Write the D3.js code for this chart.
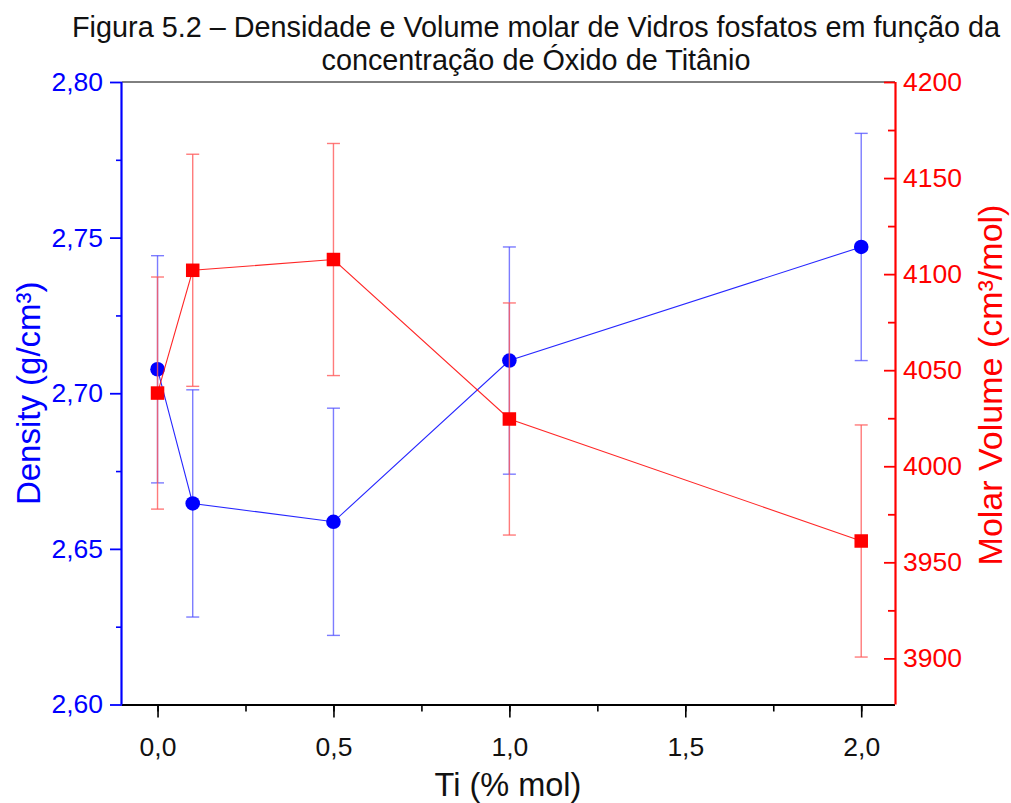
<!DOCTYPE html>
<html>
<head>
<meta charset="utf-8">
<script src="https://cdn.jsdelivr.net/npm/d3@7"></script>
<style>
  html, body { margin: 0; padding: 0; background: #fff; }
  svg { display: block; font-family: "Liberation Sans", Arial, sans-serif; }
</style>
</head>
<body>
<svg id="chart" width="1011" height="803"></svg>
<script>
// Ti concentration (% mol)
const tiConc = [0.0, 0.1, 0.5, 1.0, 2.0];
// Density (g/cm³) and its error
const density = [2.7077, 2.6646, 2.6587, 2.7105, 2.7470];
const densityErr = [0.0365, 0.0365, 0.0365, 0.0365, 0.0365];
// Molar volume (cm³/mol) and its error
const molarVolume = [4038.1, 4102.0, 4107.6, 4024.6, 3961.1];
const molarVolumeErr = [60.4, 60.4, 60.4, 60.4, 60.4];

// Tick values
const xTicks = [0.0, 0.5, 1.0, 1.5, 2.0];
const densityTicks = [2.60, 2.65, 2.70, 2.75, 2.80];
const volumeTicks = [3900, 3950, 4000, 4050, 4100, 4150, 4200];

const titleLines = [
  "Figura 5.2 \u2013 Densidade e Volume molar de Vidros fosfatos em fun\u00e7\u00e3o da",
  "concentra\u00e7\u00e3o de \u00d3xido de Tit\u00e2nio"
];

const BLUE = "#0000ff", RED = "#ff0000";
const plotL = 122, plotR = 895, plotT = 82, plotB = 704.5;
const FONT = "Liberation Sans, Arial, sans-serif";

const svg = d3.select("#chart");

const x = d3.scaleLinear().domain([-0.101, 2.096]).range([plotL, plotR]);
const yD = d3.scaleLinear().domain([2.60, 2.80]).range([plotB, plotT]);
const yV = d3.scaleLinear().domain([3876, 4200]).range([plotB, plotT]);

const comma = f => v => d3.format(f)(v).replace(".", ",");

// Title
svg.append("g").selectAll("text").data(titleLines).join("text")
  .attr("x", 536).attr("y", (d, i) => 37 + i * 33)
  .attr("text-anchor", "middle")
  .attr("font-size", 28.8).attr("fill", "#111")
  .text(d => d);

// Top frame line
svg.append("line")
  .attr("x1", plotL).attr("x2", plotR).attr("y1", plotT).attr("y2", plotT)
  .attr("stroke", "#000").attr("stroke-width", 1);

function minorTicks(scale, step) {
  const [a, b] = scale.domain();
  const out = [];
  for (let v = Math.ceil(Math.min(a, b) / step) * step; v <= Math.max(a, b) + 1e-9; v += step) out.push(+v.toFixed(6));
  return out;
}

// X axis (bottom)
const gxMinor = svg.append("g").attr("transform", `translate(0,${plotB})`)
  .call(d3.axisBottom(x).tickValues(minorTicks(x, 0.25)).tickSize(7).tickFormat(""));
gxMinor.select(".domain").remove();
gxMinor.selectAll("line").attr("stroke", "#000").attr("stroke-width", 1.6);

const gx = svg.append("g").attr("transform", `translate(0,${plotB})`)
  .call(d3.axisBottom(x).tickValues(xTicks).tickSize(13).tickPadding(20).tickFormat(comma(".1f")));
gx.select(".domain").attr("stroke", "#000").attr("stroke-width", 2).attr("d", `M${plotL},0.5H${plotR}`);
gx.selectAll("line").attr("stroke", "#000").attr("stroke-width", 1.6);
gx.selectAll("text").attr("font-size", 26.5).attr("fill", "#111").attr("font-family", FONT);

// Left axis (density)
const gyMinor = svg.append("g").attr("transform", `translate(${plotL},0)`)
  .call(d3.axisLeft(yD).tickValues([2.625, 2.675, 2.725, 2.775]).tickSize(6).tickFormat(""));
gyMinor.select(".domain").remove();
gyMinor.selectAll("line").attr("stroke", BLUE).attr("stroke-width", 1.6);

const gy = svg.append("g").attr("transform", `translate(${plotL},0)`)
  .call(d3.axisLeft(yD).tickValues(densityTicks).tickSize(12).tickPadding(7).tickFormat(comma(".2f")));
gy.select(".domain").attr("stroke", BLUE).attr("stroke-width", 2.2).attr("d", `M-0.5,${plotT}V${plotB}`);
gy.selectAll("line").attr("stroke", BLUE).attr("stroke-width", 1.8);
gy.selectAll("text").attr("font-size", 26.5).attr("fill", BLUE).attr("font-family", FONT);

// Right axis (molar volume), ticks pointing inward
const gvMinor = svg.append("g").attr("transform", `translate(${plotR},0)`)
  .call(d3.axisRight(yV).tickValues([3925, 3975, 4025, 4075, 4125, 4175]).tickSize(-7).tickFormat(""));
gvMinor.select(".domain").remove();
gvMinor.selectAll("line").attr("stroke", RED).attr("stroke-width", 1.8);

const gv = svg.append("g").attr("transform", `translate(${plotR},0)`)
  .call(d3.axisRight(yV).tickValues(volumeTicks).tickSize(-11).tickPadding(8).tickFormat(d3.format("d")));
gv.select(".domain").attr("stroke", RED).attr("stroke-width", 2.2).attr("d", `M0.5,${plotT}V${plotB}`);
gv.selectAll("line").attr("stroke", RED).attr("stroke-width", 1.8);
gv.selectAll("text").attr("font-size", 26.5).attr("fill", RED).attr("font-family", FONT);

// Axis titles
svg.append("text")
  .attr("transform", `translate(40,${(plotT + plotB) / 2}) rotate(-90)`)
  .attr("text-anchor", "middle").attr("font-size", 33).attr("fill", BLUE)
  .text("Density (g/cm\u00b3)");

svg.append("text")
  .attr("transform", `translate(1002,385) rotate(-90)`)
  .attr("text-anchor", "middle").attr("font-size", 34).attr("fill", RED)
  .text("Molar Volume (cm\u00b3/mol)");

svg.append("text")
  .attr("x", 508).attr("y", 796)
  .attr("text-anchor", "middle").attr("font-size", 32.5).attr("fill", "#111")
  .text("Ti (% mol)");

// Series drawing: error bars, connecting line, markers
function drawSeries(vals, errs, yScale, color, errColor, shape) {
  const pts = tiConc.map((c, i) => ({ c, v: vals[i], e: errs[i] }));
  const g = svg.append("g");
  const cap = 6.5;
  const eb = g.append("g").attr("stroke", errColor).attr("stroke-width", 1.4);
  pts.forEach(p => {
    const xx = x(p.c), y1 = yScale(p.v + p.e), y2 = yScale(p.v - p.e);
    eb.append("line").attr("x1", xx).attr("x2", xx).attr("y1", y1).attr("y2", y2);
    eb.append("line").attr("x1", xx - cap).attr("x2", xx + cap).attr("y1", y1).attr("y2", y1);
    eb.append("line").attr("x1", xx - cap).attr("x2", xx + cap).attr("y1", y2).attr("y2", y2);
  });
  g.append("path").datum(pts)
    .attr("fill", "none").attr("stroke", color).attr("stroke-width", 1.1).attr("stroke-opacity", 0.85)
    .attr("d", d3.line().x(p => x(p.c)).y(p => yScale(p.v)));
  if (shape === "circle") {
    g.selectAll("circle").data(pts).join("circle")
      .attr("cx", p => x(p.c)).attr("cy", p => yScale(p.v)).attr("r", 7.3)
      .attr("fill", color);
  } else {
    const s = 13.5;
    g.selectAll("rect").data(pts).join("rect")
      .attr("x", p => x(p.c) - s / 2).attr("y", p => yScale(p.v) - s / 2)
      .attr("width", s).attr("height", s).attr("fill", color);
  }
}

drawSeries(density, densityErr, yD, BLUE, "rgba(80,80,255,0.75)", "circle");
drawSeries(molarVolume, molarVolumeErr, yV, RED, "rgba(255,90,90,0.8)", "square");
</script>
</body>
</html>
